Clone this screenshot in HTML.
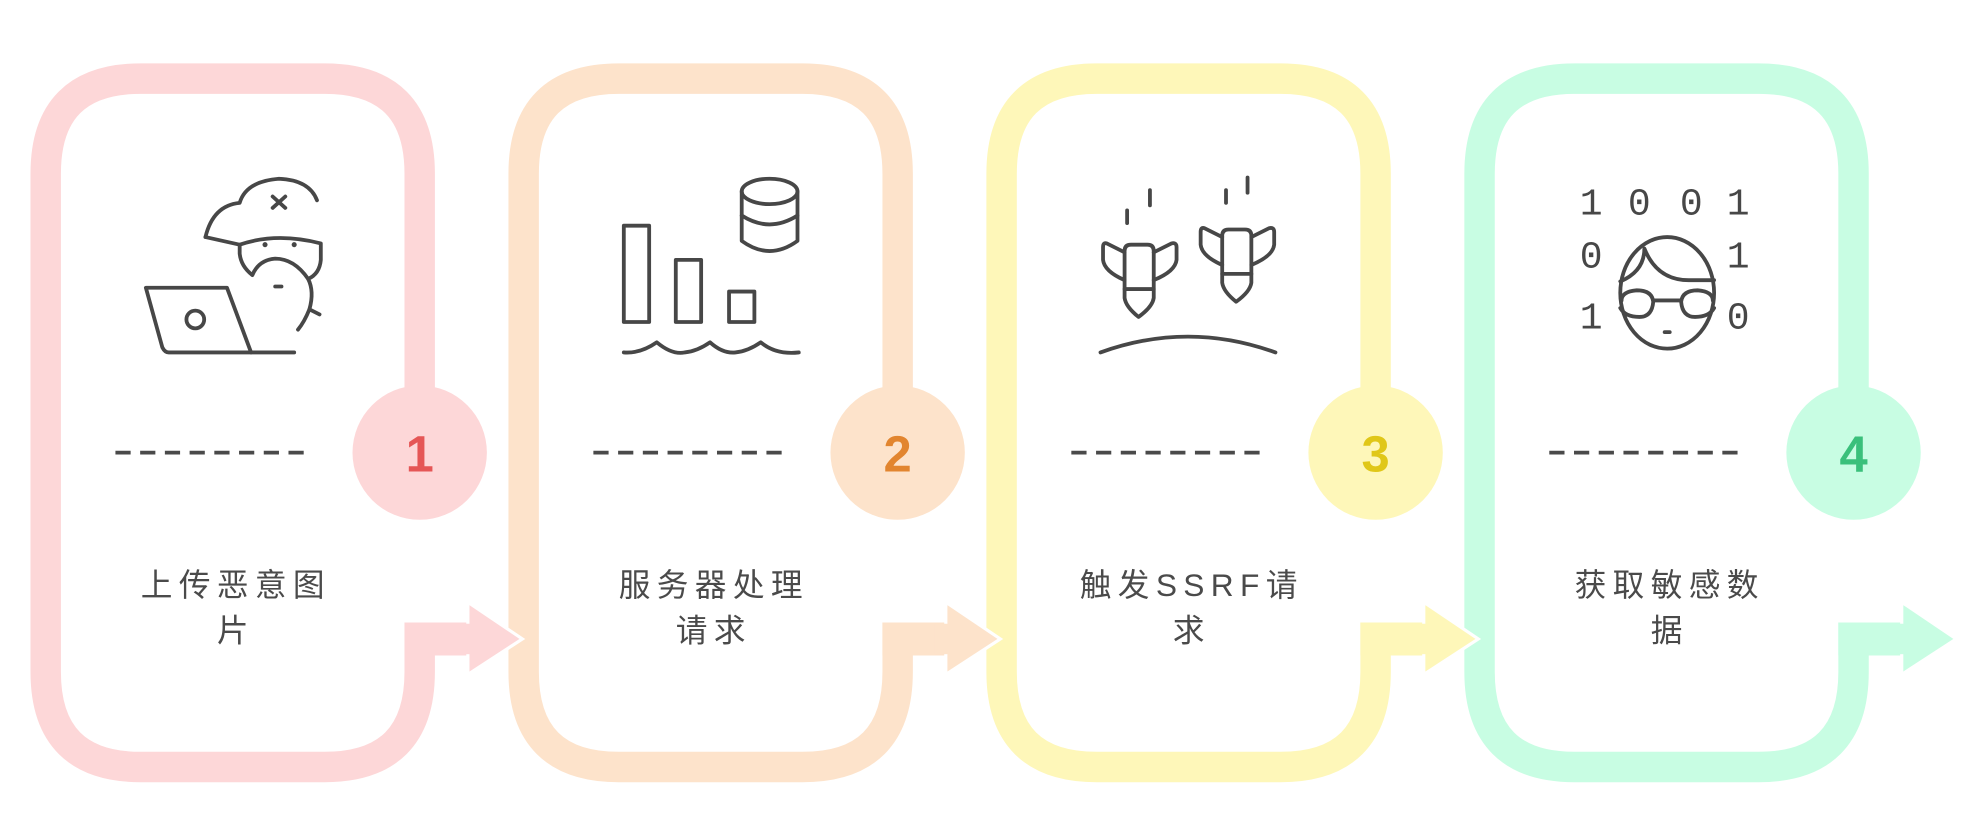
<!DOCTYPE html>
<html><head><meta charset="utf-8"><style>
html,body{margin:0;padding:0;background:#fff;}
svg{display:block}
.t{font-family:"Liberation Sans","Noto Sans CJK SC",sans-serif;font-size:25px;fill:#4a4a4a;letter-spacing:5px;text-anchor:middle}
.n{font-family:"Liberation Sans","DejaVu Sans",sans-serif;font-weight:bold;font-size:40px;text-anchor:middle}
.ic{fill:none;stroke:#474747;stroke-width:3;stroke-linecap:round;stroke-linejoin:round}
.d{font-family:"Liberation Mono","DejaVu Sans Mono",monospace;font-size:30px;fill:#474747;text-anchor:middle}
</style></head><body>
<svg width="1988" height="838" viewBox="0 0 1568 661" xmlns="http://www.w3.org/2000/svg">
<defs>
<g id="frame">
  <path d="M331,357 V137 Q331,62 256,62 H111 Q36,62 36,137 V530 Q36,605 111,605 H256 Q331,605 331,530 V491" fill="none" stroke-width="24"/>
  <circle cx="331" cy="357" r="53" stroke="none"/>
  <g stroke="#4a4a4a" stroke-width="3">
    <path d="M91,357 H241" stroke-dasharray="12,7.5"/>
  </g>
</g>
<g id="arr">
  <path d="M319,491 H370 V517 H319 Z" stroke="none"/>
  <path d="M369,475 L412,504 L369,532 Z" stroke="#fff" stroke-width="2.5" stroke-linejoin="miter"/>
  <rect x="360" y="492" width="11" height="24" stroke="none"/>
</g>
</defs>
<g fill="#fdd7d8" stroke="#fdd7d8"><use href="#frame"/></g>
<g fill="#fde3cb" stroke="#fde3cb" transform="translate(377,0)"><use href="#frame"/></g>
<g fill="#fef7b9" stroke="#fef7b9" transform="translate(754,0)"><use href="#frame"/></g>
<g fill="#c8fde3" stroke="#c8fde3" transform="translate(1131,0)"><use href="#frame"/></g>
<use href="#arr" fill="#fdd7d8"/>
<use href="#arr" fill="#fde3cb" transform="translate(377,0)"/>
<use href="#arr" fill="#fef7b9" transform="translate(754,0)"/>
<use href="#arr" fill="#c8fde3" transform="translate(1131,0)"/>

<text class="n" x="331" y="372" fill="#e55656">1</text>
<text class="n" x="708" y="372" fill="#e2852f">2</text>
<text class="n" x="1085" y="372" fill="#e0c718">3</text>
<text class="n" x="1462" y="372" fill="#3ac07b">4</text>

<text class="t" x="186" y="470">上传恶意图</text>
<text class="t" x="186" y="506">片</text>
<text class="t" x="563" y="470">服务器处理</text>
<text class="t" x="563" y="506">请求</text>
<text class="t" x="940" y="470">触发SSRF请</text>
<text class="t" x="940" y="506">求</text>
<text class="t" x="1317" y="470">获取敏感数</text>
<text class="t" x="1317" y="506">据</text>

<!-- icon 1 -->
<g class="ic">
  <path d="M115,227 H179 L198,278 H133 Q130,278 128,274 Z"/>
  <path d="M198,278 H232"/>
  <circle cx="154" cy="252" r="7"/>
  <path d="M162,187 Q168,162 189,160 Q194,143 220,141 Q244,142 250,158"/>
  <path d="M162,187 L189,193"/>
  <path d="M189,193 Q218,183 253,192 V205 Q252,216 243,220 Q232,204 217,204 Q204,205 199,217 Q190,210 189,200 Z"/>
  <path d="M243,220 Q248,230 244,244 Q240,254 235,260"/>
  <path d="M244,244 L252,248"/>
  <path d="M215,155 L225,164 M225,155 L215,164"/>
  <path d="M217,226 H222"/>
</g>
<circle cx="209" cy="193" r="2" fill="#474747"/>
<circle cx="232" cy="193" r="2" fill="#474747"/>

<!-- icon 2 -->
<g class="ic">
  <rect x="492" y="178" width="20" height="76"/>
  <rect x="533" y="205" width="20" height="49"/>
  <rect x="575" y="230" width="20" height="24"/>
  <path d="M492,278 Q505,279 518,270 Q530,280 540,278 Q550,277 560,270 Q570,279 580,278 Q590,277 600,270 Q612,280 630,278"/>
  <ellipse cx="607" cy="151" rx="22" ry="10"/>
  <path d="M585,151 V190 Q607,206 629,190 V151"/>
  <path d="M585,170 Q607,184 629,170"/>
</g>

<!-- icon 3 -->
<g class="ic">
  <g>
    <path d="M887,228 V198 Q887,193 892,193 H905 Q910,193 910,198 V228 Z"/>
    <path d="M887,228 V235 Q888,242 898,250 Q909,242 910,235 V228"/>
    <path d="M887,199 L873,192 Q870,191 870,195 V205 Q871,214 887,221"/>
    <path d="M910,199 L924,192 Q928,191 928,195 V205 Q927,214 910,221"/>
    <path d="M889,166 V176 M907,150 V162"/>
  </g>
  <g transform="translate(77,-12)"><path d="M887,228 V198 Q887,193 892,193 H905 Q910,193 910,198 V228 Z"/>
    <path d="M887,228 V235 Q888,242 898,250 Q909,242 910,235 V228"/>
    <path d="M887,199 L873,192 Q870,191 870,195 V205 Q871,214 887,221"/>
    <path d="M910,199 L924,192 Q928,191 928,195 V205 Q927,214 910,221"/>
    <path d="M890,162 V172 M907,152 V164"/></g>
  <path d="M868,278 Q937,253 1006,278"/>
</g>

<!-- icon 4 -->
<text class="d" x="1255" y="169">1</text>
<text class="d" x="1293" y="169">0</text>
<text class="d" x="1334" y="169">0</text>
<text class="d" x="1371" y="169">1</text>
<text class="d" x="1255" y="211">0</text>
<text class="d" x="1371" y="211">1</text>
<text class="d" x="1255" y="259">1</text>
<text class="d" x="1371" y="259">0</text>
<g class="ic">
  <ellipse cx="1315" cy="231" rx="37" ry="44"/>
  <path d="M1278,222 Q1297,214 1297,196 Q1307,221 1332,221 H1352"/>
  <path d="M1279,237 Q1279,230 1291,229 Q1303,229 1304,238 Q1303,250 1293,250 Q1282,250 1278,243"/>
  <path d="M1351,237 Q1351,230 1339,229 Q1327,229 1326,238 Q1327,250 1337,250 Q1348,250 1352,243"/>
  <path d="M1304,237 H1326"/>
  <path d="M1313,262 H1317"/>
</g>
</svg>
</body></html>
